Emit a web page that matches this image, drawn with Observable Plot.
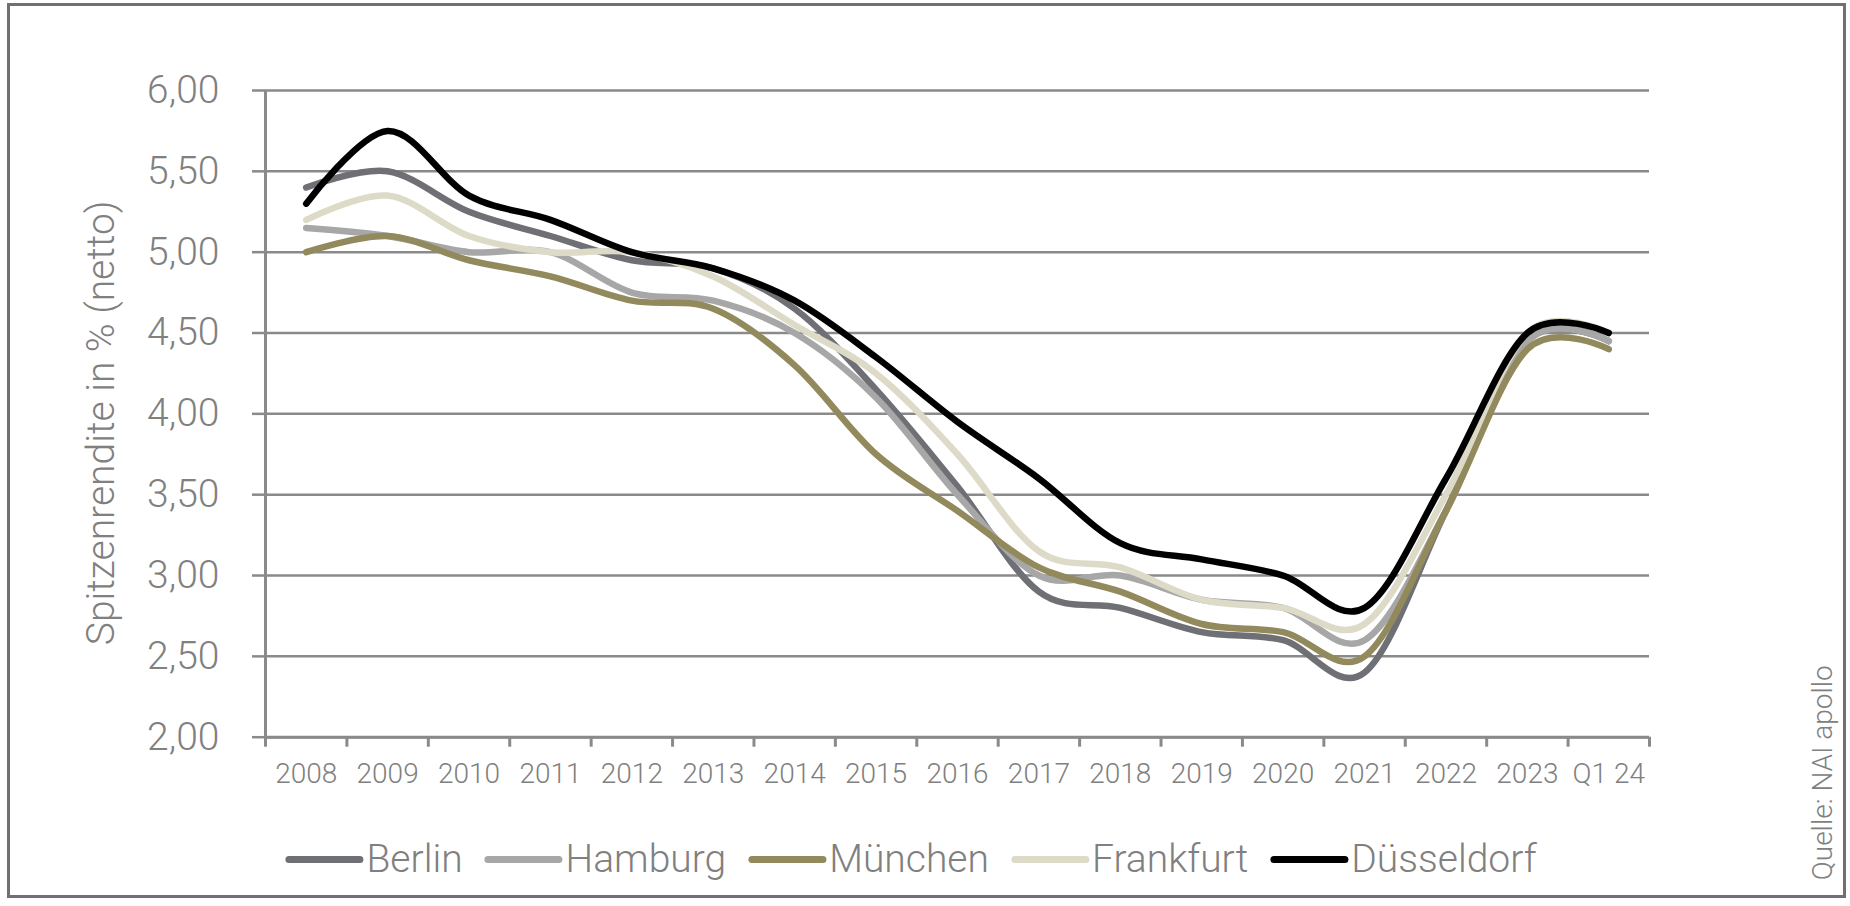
<!DOCTYPE html>
<html>
<head>
<meta charset="utf-8">
<script src="https://cdn.jsdelivr.net/npm/d3@7"></script>
<script src="https://cdn.jsdelivr.net/npm/@observablehq/plot@0.6"></script>
<style>
  html, body { margin: 0; padding: 0; background: #fff; }
  body { width: 1850px; height: 906px; position: relative; overflow: hidden;
         font-family: Roboto, "Liberation Sans", sans-serif; font-weight: 300; }
  #frame { position: absolute; left: 7px; top: 3px; width: 1833px; height: 889px;
           border: 3px solid #6e7075; pointer-events: none; }
  #chart { position: absolute; left: 0; top: 0; }
  #chart svg { font-weight: 300; }
  #legend { position: absolute; top: 836px; left: 911px; transform: translateX(-50%);
            display: flex; align-items: center; gap: 22px; font-size: 39px; line-height: 46px;
            color: #808080; white-space: nowrap; }
  .item { display: flex; align-items: center; }
  .sw { width: 78px; height: 7px; border-radius: 3.5px; margin-right: 3px; }
</style>
</head>
<body>
<div id="chart"></div>
<div id="legend"></div>
<div id="frame"></div>
<script>
// ---- data ----
const years = ["2008","2009","2010","2011","2012","2013","2014","2015","2016","2017","2018","2019","2020","2021","2022","2023","Q1 24"];
const cities = ["Berlin", "Hamburg", "München", "Frankfurt", "Düsseldorf"];
const berlin     = [5.40, 5.50, 5.25, 5.10, 4.95, 4.90, 4.65, 4.15, 3.55, 2.90, 2.80, 2.65, 2.60, 2.40, 3.40, 4.45, 4.45];
const hamburg    = [5.15, 5.10, 5.00, 5.00, 4.75, 4.70, 4.50, 4.10, 3.50, 3.00, 3.00, 2.85, 2.80, 2.60, 3.40, 4.45, 4.45];
const muenchen   = [5.00, 5.10, 4.95, 4.85, 4.70, 4.65, 4.30, 3.75, 3.40, 3.05, 2.90, 2.70, 2.65, 2.50, 3.40, 4.40, 4.40];
const frankfurt  = [5.20, 5.35, 5.10, 5.00, 5.00, 4.85, 4.55, 4.25, 3.75, 3.15, 3.05, 2.85, 2.80, 2.70, 3.50, 4.50, 4.50];
const duesseldorf= [5.30, 5.75, 5.35, 5.20, 5.00, 4.90, 4.70, 4.35, 3.95, 3.60, 3.20, 3.10, 3.00, 2.80, 3.60, 4.50, 4.50];
const colors = ["#6e7075", "#a7a7a7", "#928a5c", "#dedac8", "#000000"];
const yTicks = [2.0, 2.5, 3.0, 3.5, 4.0, 4.5, 5.0, 5.5, 6.0];
const yTitle = "Spitzenrendite in % (netto)";
const source = "Quelle: NAI apollo";

const series = [berlin, hamburg, muenchen, frankfurt, duesseldorf];
const rows = cities.flatMap((c, ci) => series[ci].map((v, i) => ({city: c, i, v})));

const gray = "#8a8a8a";
const textGray = "#808080";

const chart = Plot.plot({
  width: 1850,
  height: 906,
  marginLeft: 265,
  marginRight: 201,
  marginTop: 90,
  marginBottom: 169.3,
  style: {fontFamily: 'Roboto, "Liberation Sans", sans-serif', background: "transparent", color: textGray},
  x: {type: "linear", domain: [-0.5, years.length - 0.5], label: null},
  y: {domain: [2, 6], label: null},
  color: {domain: cities, range: colors},
  marks: [
    Plot.gridY({ticks: yTicks, stroke: gray, strokeWidth: 2.5, strokeOpacity: 1}),
    Plot.axisY({ticks: yTicks, tickSize: 13, tickPadding: 33, stroke: gray, strokeWidth: 2.5,
                fill: textGray, fontSize: 39, label: null,
                tickFormat: d => d.toFixed(2).replace(".", ",")}),
    Plot.ruleY([2], {stroke: gray, strokeWidth: 3}),
    Plot.ruleX([-0.5], {stroke: gray, strokeWidth: 3}),
    Plot.axisX({ticks: d3.range(-0.5, years.length), tickSize: 10, stroke: gray, strokeWidth: 3,
                tickFormat: () => "", label: null}),
    Plot.axisX({ticks: d3.range(years.length), tickSize: 0, tickPadding: 26, fill: textGray,
                fontSize: 28, tickFormat: i => years[i], label: null}),
    Plot.line(rows, {x: "i", y: "v", z: "city", stroke: "city", strokeWidth: 6.5,
                     curve: "cardinal", strokeLinecap: "round", strokeLinejoin: "round"}),
    Plot.text([yTitle], {text: d => d, frameAnchor: "left", rotate: -90, dx: -163.5, dy: 9,
                         fontSize: 39, fill: textGray, textAnchor: "middle", lineAnchor: "middle"}),
    Plot.text([source], {text: d => d, frameAnchor: "bottom-right", rotate: -90, dx: 174, dy: 143,
                         fontSize: 28, fill: textGray, textAnchor: "start", lineAnchor: "middle"})
  ]
});
document.getElementById("chart").appendChild(chart);

const legend = d3.select("#legend");
cities.forEach((c, i) => {
  const it = legend.append("div").attr("class", "item");
  it.append("div").attr("class", "sw").style("background", colors[i]);
  it.append("span").text(c);
});
</script>
</body>
</html>
